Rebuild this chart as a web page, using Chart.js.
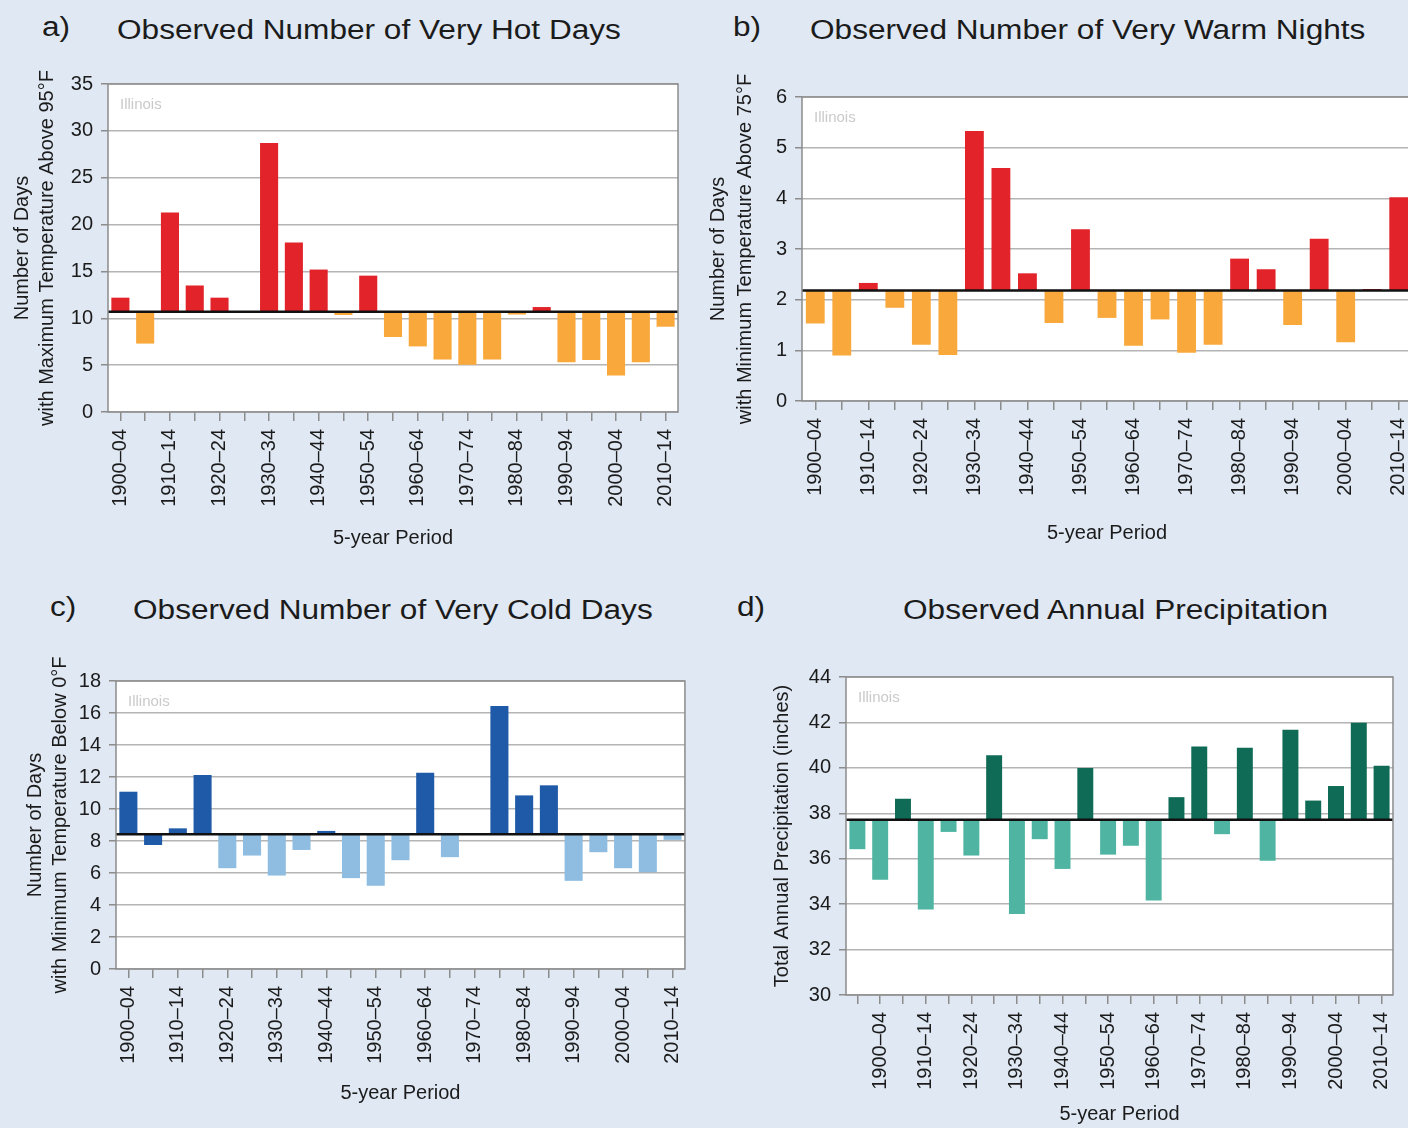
<!DOCTYPE html>
<html>
<head>
<meta charset="utf-8">
<script src="https://cdn.jsdelivr.net/npm/chart.js@4/dist/chart.umd.min.js"></script>
<style>
  html, body { margin: 0; padding: 0; }
  body {
    width: 1408px; height: 1128px; overflow: hidden; position: relative;
    background: #dfe8f3; font-family: "Liberation Sans", Arial, sans-serif; color: #1b1b1b;
  }
  .ttl { position: absolute; font-size: 27px; line-height: 1; white-space: nowrap;
         transform: scaleX(1.17); transform-origin: left top; }
  .box { position: absolute; }
</style>
</head>
<body>
<div class="ttl" style="left:42px;top:14px">a)</div>
<div class="ttl" style="left:117px;top:17px">Observed Number of Very Hot Days</div>
<div class="ttl" style="left:733px;top:14px">b)</div>
<div class="ttl" style="left:810px;top:17px">Observed Number of Very Warm Nights</div>
<div class="ttl" style="left:50px;top:594px">c)</div>
<div class="ttl" style="left:133px;top:597px">Observed Number of Very Cold Days</div>
<div class="ttl" style="left:737px;top:594px">d)</div>
<div class="ttl" style="left:903px;top:597px">Observed Annual Precipitation</div>

<div class="box" id="boxA"><canvas id="chartA"></canvas></div>
<div class="box" id="boxB"><canvas id="chartB"></canvas></div>
<div class="box" id="boxC"><canvas id="chartC"></canvas></div>
<div class="box" id="boxD"><canvas id="chartD"></canvas></div>

<script>
// periodos de 5 años
const periods = ["1900–04", "1905–09", "1910–14", "1915–19", "1920–24", "1925–29",
  "1930–34", "1935–39", "1940–44", "1945–49", "1950–54", "1955–59", "1960–64",
  "1965–69", "1970–74", "1975–79", "1980–84", "1985–89", "1990–94", "1995–99",
  "2000–04", "2005–09", "2010–14"];
const periodsPrecip = ["1895–99", "1900–04", "1905–09", "1910–14", "1915–19", "1920–24",
  "1925–29", "1930–34", "1935–39", "1940–44", "1945–49", "1950–54", "1955–59",
  "1960–64", "1965–69", "1970–74", "1975–79", "1980–84", "1985–89", "1990–94",
  "1995–99", "2000–04", "2005–09", "2010–14"];

// valores
const hotDays = [12.2, 7.3, 21.3, 13.5, 12.2, 10.7, 28.7, 18.1, 15.2, 10.35, 14.55, 8.0,
  7.0, 5.6, 5.05, 5.6, 10.4, 11.2, 5.3, 5.55, 3.9, 5.3, 9.1];
const hotBase = 10.7;

const warmNights = [1.53, 0.9, 2.33, 1.84, 1.11, 0.91, 5.33, 4.6, 2.52, 1.54, 3.39, 1.64,
  1.09, 1.61, 0.95, 1.11, 2.81, 2.6, 1.5, 3.2, 1.16, 2.21, 4.02];
const warmBase = 2.18;

const coldDays = [11.08, 7.75, 8.79, 12.12, 6.3, 7.09, 5.84, 7.44, 8.63, 5.68, 5.2, 6.8,
  12.27, 6.99, 8.42, 16.44, 10.85, 11.48, 5.51, 7.3, 6.3, 6.05, 8.07];
const coldBase = 8.42;
const coldDarkBelow = ["1905–09"]; // barra oscura bajo la media en el original

const precip = [36.42, 35.07, 38.64, 33.76, 37.18, 36.14, 40.55, 33.57, 36.86, 35.55,
  39.99, 36.18, 36.57, 34.16, 38.71, 40.94, 37.08, 40.89, 35.91, 41.68, 38.56, 39.2,
  41.99, 40.09];
const precipBase = 37.71;

const fontFam = '"Liberation Sans", Arial, sans-serif';

// Fondo blanco, marco, linea de la media y etiqueta "Illinois"
const marcoPanel = {
  id: "marcoPanel",
  beforeDraw(chart) {
    const { ctx, chartArea: a } = chart;
    ctx.save();
    ctx.fillStyle = "#ffffff";
    ctx.fillRect(a.left, a.top, a.right - a.left, a.bottom - a.top);
    ctx.restore();
  },
  afterDatasetsDraw(chart, args, opts) {
    const { ctx, chartArea: a, scales } = chart;
    const y = scales.y.getPixelForValue(opts.base);
    ctx.save();
    ctx.strokeStyle = "#111111";
    ctx.lineWidth = 2.5;
    ctx.beginPath();
    ctx.moveTo(a.left, y);
    ctx.lineTo(a.right, y);
    ctx.stroke();
    ctx.strokeStyle = "#8c8c8c";
    ctx.lineWidth = 1.5;
    ctx.strokeRect(a.left, a.top, a.right - a.left, a.bottom - a.top);
    ctx.fillStyle = "#cacaca";
    ctx.font = "15px " + fontFam;
    ctx.textBaseline = "top";
    ctx.fillText("Illinois", a.left + 12, a.top + 13);
    ctx.restore();
  },
};

function crearPanel(cfg) {
  const box = document.getElementById(cfg.box);
  box.style.left = cfg.left + "px";
  box.style.top = cfg.top + "px";
  box.style.width = cfg.width + "px";
  box.style.height = cfg.height + "px";

  return new Chart(document.getElementById(cfg.canvas), {
    type: "bar",
    data: {
      labels: cfg.labels,
      datasets: [{
        data: cfg.values,
        base: cfg.base,
        backgroundColor: (c) => cfg.color(c.raw, cfg.labels[c.dataIndex]),
        borderWidth: 0,
        categoryPercentage: 1,
        barPercentage: cfg.barPct,
      }],
    },
    options: {
      responsive: true,
      maintainAspectRatio: false,
      animation: false,
      layout: { padding: { top: cfg.padTop, right: cfg.padRight, left: 0, bottom: 0 } },
      plugins: {
        legend: { display: false },
        tooltip: { enabled: false },
        marcoPanel: { base: cfg.base },
      },
      scales: {
        x: {
          afterFit: (s) => { s.height = cfg.xHeight; },
          border: { display: false },
          grid: { offset: false, drawOnChartArea: false, drawTicks: true, tickLength: 9, tickColor: "#8c8c8c", lineWidth: 1.5 },
          ticks: {
            autoSkip: false,
            maxRotation: 90,
            minRotation: 90,
            padding: 8,
            color: "#1b1b1b",
            font: { family: fontFam, size: 20 },
            callback: function (v, i) {
              return i % 2 === cfg.labelParity ? this.getLabelForValue(v) : "";
            },
          },
          title: {
            display: true,
            text: "5-year Period",
            color: "#1b1b1b",
            font: { family: fontFam, size: 20, lineHeight: 1.25 },
            padding: { top: 0, bottom: 4 },
          },
        },
        y: {
          min: cfg.min,
          max: cfg.max,
          afterFit: (s) => { s.width = cfg.yWidth; },
          border: { display: false },
          grid: { color: "#b4b4b4", lineWidth: 1.5, tickLength: 7, tickColor: "#8c8c8c" },
          ticks: {
            stepSize: cfg.step,
            padding: 8,
            color: "#1b1b1b",
            font: { family: fontFam, size: 20 },
          },
          title: {
            display: true,
            text: cfg.yTitle,
            color: "#1b1b1b",
            font: { family: fontFam, size: 20, lineHeight: cfg.yLine },
            padding: { top: cfg.yTitlePad, bottom: 0 },
          },
        },
      },
    },
    plugins: [marcoPanel],
  });
}

// a) dias muy calurosos
crearPanel({
  box: "boxA", canvas: "chartA", left: 0, top: 60, width: 700, height: 495,
  padTop: 24, padRight: 22, yWidth: 108, xHeight: 143,
  labels: periods, values: hotDays, base: hotBase, labelParity: 0, barPct: 0.73,
  min: 0, max: 35, step: 5,
  yTitle: ["Number of Days", "with Maximum Temperature Above 95°F"], yLine: 1.25, yTitlePad: 10,
  color: (v) => (v >= hotBase ? "#e2232a" : "#f9a83c"),
});

// b) noches muy calidas
crearPanel({
  box: "boxB", canvas: "chartB", left: 700, top: 60, width: 732, height: 490,
  padTop: 37, padRight: 20, yWidth: 102, xHeight: 149,
  labels: periods, values: warmNights, base: warmBase, labelParity: 0, barPct: 0.71,
  min: 0, max: 6, step: 1,
  yTitle: ["Number of Days", "with Minimum Temperature Above 75°F"], yLine: 1.35, yTitlePad: 5,
  color: (v) => (v >= warmBase ? "#e2232a" : "#f9a83c"),
});

// c) dias muy frios
crearPanel({
  box: "boxC", canvas: "chartC", left: 0, top: 640, width: 705, height: 470,
  padTop: 41, padRight: 20, yWidth: 116, xHeight: 141,
  labels: periods, values: coldDays, base: coldBase, labelParity: 0, barPct: 0.73,
  min: 0, max: 18, step: 2,
  yTitle: ["Number of Days", "with Minimum Temperature Below 0°F"], yLine: 1.25, yTitlePad: 23,
  color: (v, lab) => (v >= coldBase || coldDarkBelow.includes(lab) ? "#1f5aa8" : "#8ebde1"),
});

// d) precipitacion anual
crearPanel({
  box: "boxD", canvas: "chartD", left: 760, top: 640, width: 654, height: 491,
  padTop: 37, padRight: 20, yWidth: 86, xHeight: 136,
  labels: periodsPrecip, values: precip, base: precipBase, labelParity: 1, barPct: 0.7,
  min: 30, max: 44, step: 2,
  yTitle: "Total Annual Precipitation (inches)", yLine: 1.25, yTitlePad: 10,
  color: (v) => (v >= precipBase ? "#0f6b56" : "#4fb5a2"),
});
</script>
</body>
</html>
